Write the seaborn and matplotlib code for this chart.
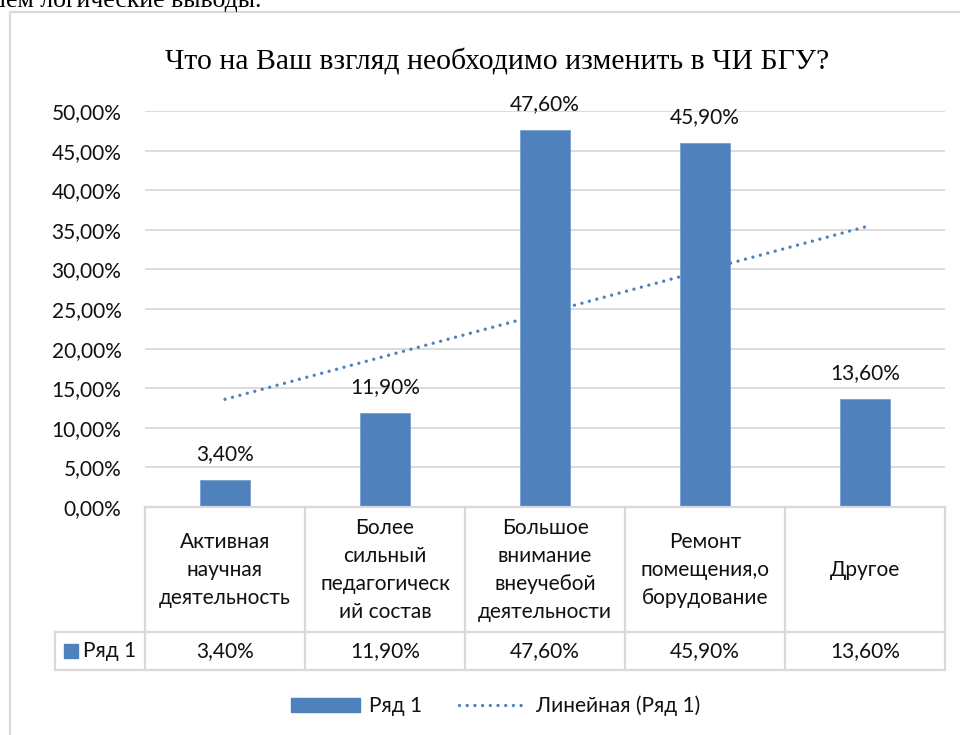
import numpy as np
import pandas as pd
import matplotlib
matplotlib.use("Agg")
import matplotlib.pyplot as plt
import seaborn as sns
from matplotlib.patches import Patch, Rectangle
from matplotlib.lines import Line2D

# ---------------- data ----------------
categories = [
    "Активная\nнаучная\nдеятельность",
    "Более\nсильный\nпедагогическ\nий состав",
    "Большое\nвнимание\nвнеучебой\nдеятельности",
    "Ремонт\nпомещения,о\nборудование",
    "Другое",
]
values = [3.4, 11.9, 47.6, 45.9, 13.6]
value_labels = ["3,40%", "11,90%", "47,60%", "45,90%", "13,60%"]
y_ticks = [0, 5, 10, 15, 20, 25, 30, 35, 40, 45, 50]
y_tick_labels = ["0,00%", "5,00%", "10,00%", "15,00%", "20,00%", "25,00%",
                 "30,00%", "35,00%", "40,00%", "45,00%", "50,00%"]
series_name = "Ряд 1"
trend_name = "Линейная (Ряд 1)"
title = "Что на Ваш взгляд необходимо изменить в ЧИ БГУ?"
page_text = "шем логические выводы."

# ---------------- style ----------------
BLUE = "#4f81bd"
GRID = "#d9d9d9"
TXT = "#111111"
SANS = ["Lato", "DejaVu Sans"]
SERIF = ["Liberation Serif", "DejaVu Serif"]
FS = 15

sns.set_theme(style="white")
plt.rcParams["font.family"] = SANS

W, H = 960, 735
fig = plt.figure(figsize=(W / 100, H / 100), dpi=100)
fig.patch.set_facecolor("white")


def fx(px):
    return px / W


def fy(py):
    return 1 - py / H


# page text, clipped at the top, and chart frame
fig.text(fx(262), fy(7), page_text, ha="right", va="baseline",
         fontsize=18.5, family=SERIF, color="black")
fig.add_artist(Line2D([fx(10), fx(10), fx(960)], [fy(740), fy(12), fy(12)],
                      color=GRID, lw=1.6, transform=fig.transFigure))

# ---------------- main axes ----------------
ax = fig.add_axes([fx(145), fy(507), fx(945) - fx(145), fy(111) - fy(507)])
df = pd.DataFrame({"cat": categories, "val": values})
sns.barplot(data=df, x="cat", y="val", color=BLUE, saturation=1, width=0.31,
            edgecolor="#7aa0d0", linewidth=0.6, ax=ax)

xs = np.arange(1, len(values) + 1)
coef = np.polyfit(xs, values, 1)
trend = np.polyval(coef, xs)
ax.plot(np.arange(len(values)), trend, color=BLUE, lw=2.4,
        linestyle=(0, (0.01, 2.3)), dash_capstyle="round")

for i, (v, lab) in enumerate(zip(values, value_labels)):
    ax.annotate(lab, (i, v), xytext=(0, 11.5), textcoords="offset points",
                ha="center", va="bottom", fontsize=FS, color=TXT)

ax.set_xlim(-0.5, len(values) - 0.5)
ax.set_ylim(0, 50)
ax.set_yticks(y_ticks)
ax.set_yticklabels(y_tick_labels)
ax.set_xticks([])
ax.set_xlabel("")
ax.set_ylabel("")
ax.yaxis.grid(True, color=GRID, lw=1.3)
ax.set_axisbelow(True)
for s in ax.spines.values():
    s.set_visible(False)
ax.tick_params(axis="y", length=0, pad=17, labelsize=FS, labelcolor=TXT)

# ---------------- data table ----------------
tab = fig.add_axes([fx(55), fy(670), fx(945) - fx(55), fy(507) - fy(670)])
left_col = 90 / 160
tab.set_xlim(-0.5 - left_col, len(values) - 0.5)
tab.set_ylim(670, 507)
tab.axis("off")
lkw = dict(color=GRID, lw=1.6, clip_on=False, solid_capstyle="projecting")
tab.plot([-0.5, len(values) - 0.5], [507, 507], **lkw)
tab.plot([-0.5 - left_col, len(values) - 0.5], [632, 632], **lkw)
tab.plot([-0.5 - left_col, len(values) - 0.5], [670, 670], **lkw)
tab.plot([-0.5 - left_col, -0.5 - left_col], [632, 670], **lkw)
for k in range(len(values) + 1):
    tab.plot([k - 0.5, k - 0.5], [507, 670], **lkw)

for i, (c, lab) in enumerate(zip(categories, value_labels)):
    tab.text(i, 570, c, ha="center", va="center", fontsize=FS,
             linespacing=1.5, color=TXT)
    tab.text(i, 651, lab, ha="center", va="center", fontsize=FS, color=TXT)

# legend key in the table row
key_x0 = -0.5 - left_col + 9 / 160
tab.add_patch(Rectangle((key_x0, 644), 14 / 160, 14, color=BLUE, clip_on=False))
tab.text(key_x0 + 19 / 160, 651, series_name, ha="left", va="center",
         fontsize=FS, color=TXT)

# ---------------- legend ----------------
handles = [
    Patch(facecolor=BLUE, edgecolor=BLUE),
    Line2D([0], [0], color=BLUE, lw=2.4, linestyle=(0, (0.01, 2.3)),
           dash_capstyle="round"),
]
fig.legend(handles, [series_name, trend_name], loc="center",
           bbox_to_anchor=(fx(496), fy(706)), ncol=2, frameon=False,
           fontsize=FS, handlelength=3.3, handleheight=0.6, handletextpad=0.4,
           columnspacing=1.8, labelcolor=TXT)

# ---------------- title ----------------
fig.text(fx(497), fy(62), title, ha="center", va="center", fontsize=21.4,
         family=SERIF, color="black")

fig.savefig("out.png", dpi=100, facecolor="white")
